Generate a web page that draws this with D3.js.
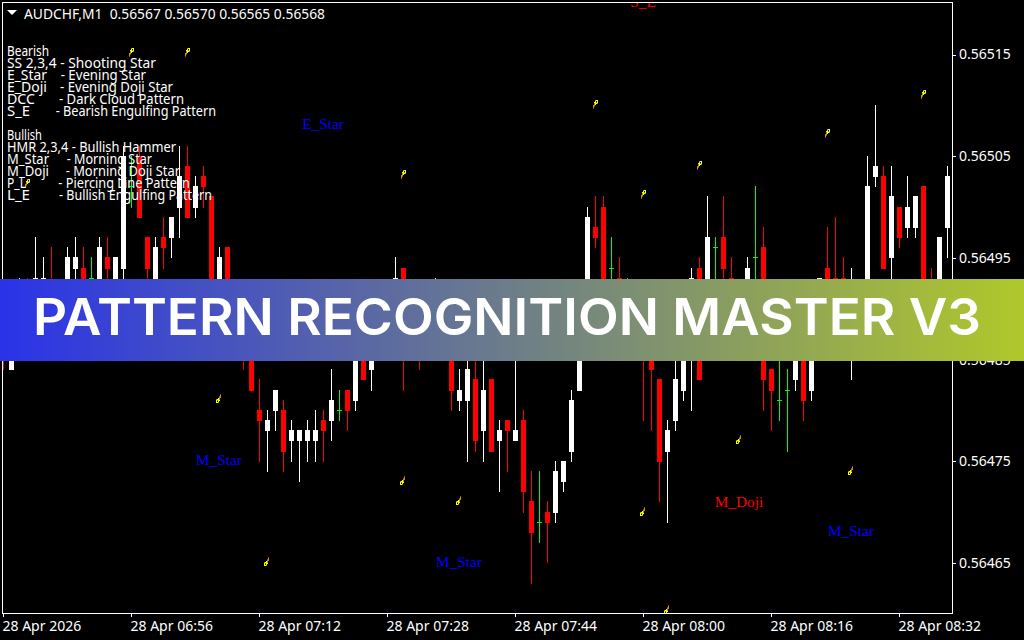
<!DOCTYPE html>
<html><head><meta charset="utf-8">
<script src="https://cdn.jsdelivr.net/npm/d3@7/dist/d3.min.js"></script>
<style>
html,body{margin:0;padding:0;background:#000;overflow:hidden}
svg{display:block}
.ui{font-family:"Noto Sans",sans-serif;font-size:14px;fill:#fff;white-space:pre}
</style></head><body>
<svg id="c" width="1024" height="640"></svg>
<script>
// Prices are in points above 0.56000 (1 point = 0.00001)
const opens  = [490,484,489,489,489,490,492,489,490,494,494,493,491,495,490,494,502,505,497,490,497,497,500,504,500,503,501,490,496,491,490,489,480,478,480,480,477,477,477,477,479,479,480,482,481,488,484,486,490,488,494,487,490,491,488,487,489,481,481,483,478,483,477,479,477,479,471,469,470,470,473,476,482,490,498,500,494,493,490,488,490,489,483,476,479,482,488,494,489,496,497,493,488,489,495,496,484,481,482,483,488,482,489,494,493,493,488,488,489,503,503,495,500,498,498,502,491,489,498];
const highs  = [491,490,493,493,497,495,496,492,496,497,496,495,497,497,495,506,505,506,497,497,499,499,506,506,503,504,501,496,496,492,491,490,483,480,482,481,479,478,479,480,480,484,482,482,489,490,489,491,491,495,494,491,491,492,493,491,490,484,487,486,486,483,479,479,487,480,474,474,471,475,475,482,490,500,501,501,497,495,493,491,491,490,483,479,486,489,494,495,501,497,501,495,492,495,502,498,484,487,484,489,489,489,493,498,499,495,494,492,505,510,504,504,500,503,501,502,494,497,504];
const lows   = [484,484,487,486,488,488,487,487,488,491,488,490,489,490,488,491,500,499,490,489,494,495,497,499,499,500,488,489,489,486,484,482,475,474,478,474,475,473,475,475,475,477,479,478,480,483,482,485,486,486,482,486,484,486,486,486,480,480,475,476,475,476,472,474,477,470,463,467,465,469,472,475,482,488,496,487,489,489,488,487,479,478,471,469,478,481,480,483,487,488,489,487,487,488,490,480,478,479,476,482,479,481,488,488,488,487,483,486,488,502,494,488,496,497,497,487,488,487,495];
const closes = [486,489,492,488,493,493,489,491,495,495,490,493,496,494,495,505,502,499,494,496,496,499,503,499,502,502,489,495,490,488,487,482,479,479,482,476,478,478,478,478,478,481,480,480,488,483,487,489,487,493,487,490,487,488,491,490,482,482,484,477,482,476,478,478,478,472,468,469,469,474,475,481,489,499,497,489,494,489,490,490,486,484,475,478,483,488,493,483,497,496,494,489,491,494,495,483,482,481,482,488,481,488,493,489,489,489,490,491,502,504,494,501,497,500,501,488,489,497,503];

const priceTicks = [0.56515,0.56505,0.56495,0.56485,0.56475,0.56465];
const timeBars   = [0,16,32,48,64,80,96,112];
const timeLabels = ["28 Apr 2026","28 Apr 06:56","28 Apr 07:12","28 Apr 07:28","28 Apr 07:44","28 Apr 08:00","28 Apr 08:16","28 Apr 08:32"];

const headerText = "AUDCHF,M1  0.56567 0.56570 0.56565 0.56568";
const legendCodes = ["Bearish","SS 2,3,4 - Shooting Star","E_Star","E_Doji","DCC","S_E","","Bullish","HMR 2,3,4 - Bullish Hammer","M_Star","M_Doji","P_L","L_E"];
const legendDescs = ["","","- Evening Star","- Evening Doji Star","- Dark Cloud Pattern","- Bearish Engulfing Pattern","","","","- Morning Star","- Morning Doji Star","- Piercing Line Pattern","- Bullish Engulfing Pattern"];
const codeWidths  = [42,149,40,40,28,23,0,35,169,42,42,19,23];
const descStarts  = [0,0,60.7,60,59,55.7,0,0,0,66.7,65.7,58.3,59];
const descEnds    = [0,0,146,173,184,216,0,0,0,152,180,190,212];

const patternNames  = ["E_Star","M_Star","M_Star","M_Doji","M_Star","S_E"];
const patternBars   = [40,27,57,92,106,80];
const patternPrices = [507.6,474.6,464.6,470.5,467.6,519.6];
const patternKinds  = ["blue","blue","blue","red","blue","red"];

const downMarkBars   = [16,23,3,50,74,80,87,103,115];
const downMarkPrices = [515.1,515.1,502.2,503.1,510,501.1,504,507.1,511];
const upMarkBars     = [27,33,50,57,80,92,106,83];
const upMarkPrices   = [481.1,465,473,471,470,477,474,460.3];

const bannerTitle = "PATTERN RECOGNITION MASTER V3";

const svg = d3.select("#c");
const x = d3.scaleLinear().domain([0,118]).range([3,947]);
const y = d3.scaleLinear().domain([0.56465,0.56515]).range([563,54.5]);
const py = p => Math.floor(y(0.56 + p/1e5));
const px = i => Math.round(x(i));
const bars = d3.range(opens.length);
const color = i => closes[i] > opens[i] ? "#fff" : closes[i] < opens[i] ? "#ff0000" : "#00ff00";

svg.append("rect").attr("width",1024).attr("height",640).attr("fill","#000");
const defs = svg.append("defs");
defs.append("clipPath").attr("id","plot").append("rect").attr("x",3).attr("y",3).attr("width",949).attr("height",610);
const grad = defs.append("linearGradient").attr("id","bannerGrad");
grad.append("stop").attr("offset","0%").attr("stop-color","#2a33e8");
grad.append("stop").attr("offset","100%").attr("stop-color","#b0c82a");

const plot = svg.append("g").attr("clip-path","url(#plot)").attr("shape-rendering","crispEdges");
plot.selectAll("rect.wick").data(bars).join("rect").attr("class","wick")
  .attr("x",px).attr("width",1)
  .attr("y",i=>py(highs[i])).attr("height",i=>py(lows[i])-py(highs[i])+1)
  .attr("fill",color);
plot.selectAll("rect.body").data(bars).join("rect").attr("class","body")
  .attr("x",i=>px(i)-2).attr("width",5)
  .attr("y",i=>py(Math.max(opens[i],closes[i])))
  .attr("height",i=>py(Math.min(opens[i],closes[i]))-py(Math.max(opens[i],closes[i]))+1)
  .attr("fill",color);

// Small hand-shaped arrow markers, drawn pixel by pixel; the up version is the down one turned half round
const Y="#ffff00",O="#9a9a00",G="#20b000",K="#000000",A="#c89000",D="#8a5a00";
const glyph = ["..OYY","..YKY",".YYGY",".OYYO",".AY..","AA...","AD...","A....","D...."];
function drawMark(g, cx, cy, turned){
  glyph.forEach((row,r)=>{
    row.split("").forEach((ch,c)=>{
      if(ch===".") return;
      const col = {Y,O,G,K,A,D}[ch];
      g.append("rect")
        .attr("x", turned ? cx-3+(4-c) : cx-2+c)
        .attr("y", turned ? cy-5+(8-r) : cy-5+r)
        .attr("width",1).attr("height",1).attr("fill",col);
    });
  });
}
downMarkBars.forEach((b,i)=>drawMark(plot,px(b),py(downMarkPrices[i]),false));
upMarkBars.forEach((b,i)=>drawMark(plot,px(b),py(upMarkPrices[i]),true));

// Pattern labels
plot.append("g").selectAll("text").data(patternNames).join("text")
  .attr("x",(d,i)=>px(patternBars[i])).attr("y",(d,i)=>py(patternPrices[i]))
  .attr("text-anchor","middle").attr("font-family","Liberation Serif").attr("font-size","15.3px")
  .attr("fill",(d,i)=>patternKinds[i]==="blue"?"#0000ff":"#ff0000").text(d=>d);

// Frame
svg.append("rect").attr("x",2.5).attr("y",2.5).attr("width",950).attr("height",611)
  .attr("fill","none").attr("stroke","#fff").attr("shape-rendering","crispEdges");

// Axes
const yAxis = d3.axisRight(y).tickValues(priceTicks).tickFormat(d3.format(".5f")).tickSize(3).tickPadding(3);
const ga = svg.append("g").attr("transform","translate(953,0)").call(yAxis);
const xAxis = d3.axisBottom(x).tickValues(timeBars).tickFormat((d,i)=>timeLabels[i]).tickSize(3).tickPadding(5);
const gb = svg.append("g").attr("transform","translate(0,614)").call(xAxis);
[ga,gb].forEach(g=>{
  g.select(".domain").remove();
  g.selectAll("line").attr("stroke","#fff").attr("shape-rendering","crispEdges");
  g.selectAll("text").attr("class","ui").attr("fill","#fff").attr("font-family",null).attr("font-size",null);
});
gb.selectAll("text").attr("text-anchor","start").attr("x",-1).attr("y",17).attr("dy",0);

// Header
svg.append("path").attr("d",d3.line()([[7,10],[17,10],[12,15]])+"Z").attr("fill","#fff");
svg.append("text").attr("class","ui").attr("x",24).attr("y",19)
  .attr("textLength",301).attr("lengthAdjust","spacingAndGlyphs").text(headerText);

// Legend
const lg = svg.append("g");
legendCodes.forEach((code,i)=>{
  const ly = 56+i*12;
  if(code) lg.append("text").attr("class","ui").attr("x",7).attr("y",ly)
    .attr("textLength",codeWidths[i]).attr("lengthAdjust","spacingAndGlyphs").text(code);
  if(legendDescs[i]) lg.append("text").attr("class","ui").attr("x",descStarts[i]).attr("y",ly)
    .attr("textLength",descEnds[i]-descStarts[i]).attr("lengthAdjust","spacingAndGlyphs").text(legendDescs[i]);
});

// Banner
svg.append("rect").attr("x",0).attr("y",279).attr("width",1024).attr("height",82).attr("fill","url(#bannerGrad)");
svg.append("text").attr("x",33).attr("y",335).attr("fill","#fff")
  .attr("font-family","Inter").attr("font-weight",600).attr("font-size","51px")
  .attr("textLength",948).attr("lengthAdjust","spacingAndGlyphs").text(bannerTitle);
</script>
</body></html>
